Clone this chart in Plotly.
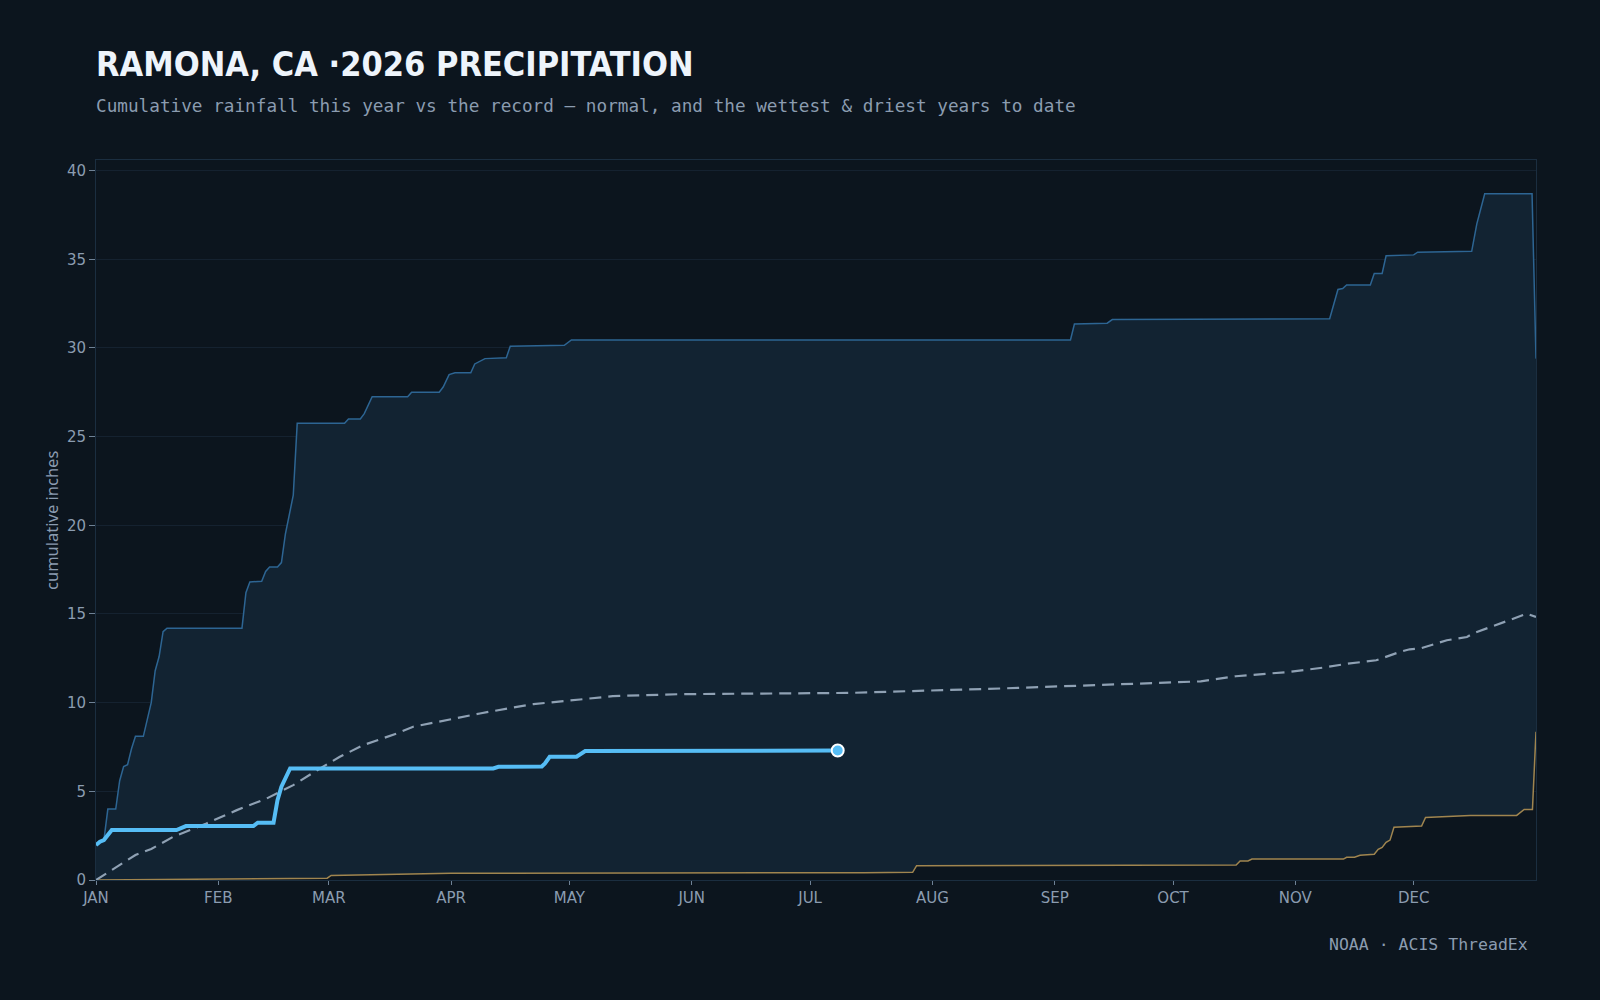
import pandas as pd
import plotly.graph_objects as go

YEAR_START = "2026-01-01"
AXIS_END = "2027-01-01"

month_ticks = ["2026-01-01", "2026-02-01", "2026-03-01", "2026-04-01", "2026-05-01", "2026-06-01",
               "2026-07-01", "2026-08-01", "2026-09-01", "2026-10-01", "2026-11-01", "2026-12-01"]
month_labels = ["JAN", "FEB", "MAR", "APR", "MAY", "JUN", "JUL", "AUG", "SEP", "OCT", "NOV", "DEC"]

# day-of-year offsets (0 = Jan 1) and cumulative inches
wettest_days = [0, 1, 2, 3, 5, 6, 7, 8, 9, 10, 12, 14, 15, 16, 17, 18, 37, 38, 39, 42, 43, 44, 46, 47, 48, 50,
                51, 63, 64, 67, 68, 70, 79, 80, 87, 88, 89.5, 91, 95, 96, 98.6, 104, 105, 118.7, 120.5, 247, 248,
                256.3, 257.6, 312.7, 314.8, 316, 317, 323, 324, 326, 327, 334, 335, 348.7, 350, 352, 364, 365]
wettest_in = [1.97, 2.16, 2.25, 4.0, 4.0, 5.6, 6.4, 6.5, 7.4, 8.1, 8.1, 10.0, 11.8, 12.6, 14.0, 14.2, 14.2, 16.2,
              16.8, 16.85, 17.4, 17.65, 17.65, 17.9, 19.5, 21.7, 25.75, 25.75, 26.0, 26.0, 26.3, 27.25, 27.25,
              27.5, 27.5, 27.8, 28.5, 28.6, 28.6, 29.1, 29.4, 29.45, 30.1, 30.15, 30.45, 30.45, 31.35, 31.4,
              31.6, 31.65, 33.3, 33.35, 33.55, 33.55, 34.2, 34.2, 35.2, 35.25, 35.4, 35.45, 37.0, 38.7, 38.7, 29.4]

driest_days = [0, 47, 58.6, 59.6, 72, 86, 90, 194.6, 207, 208, 284, 284.9, 289, 290, 292, 293, 316.2, 317, 319,
               320.4, 324, 325, 326, 327, 328, 329, 336, 337, 340.7, 348.3, 360.1, 362, 364.1, 365]
driest_in = [0, 0.05, 0.1, 0.26, 0.3, 0.34, 0.38, 0.41, 0.43, 0.81, 0.81, 0.85, 0.85, 1.07, 1.07, 1.18, 1.18,
             1.28, 1.28, 1.39, 1.45, 1.73, 1.84, 2.12, 2.25, 2.97, 3.04, 3.53, 3.57, 3.64, 3.64, 3.98, 3.98, 8.36]

normal_days = [0, 10, 14, 19.6, 28, 35.7, 43.3, 50, 56.8, 61.8, 67.8, 76.2, 80.4, 86.4, 97.3, 105.8, 110.9,
               122.7, 131, 148, 191, 229.3, 253.4, 280, 288.9, 302.3, 311.2, 317.3, 324.5, 330.5, 333, 335.6,
               342.4, 347.5, 349, 352.5, 356.7, 360, 362.7, 365]
normal_in = [0, 1.41, 1.75, 2.44, 3.19, 3.94, 4.6, 5.35, 6.29, 6.95, 7.61, 8.26, 8.64, 8.92, 9.39, 9.73, 9.92,
             10.18, 10.37, 10.48, 10.55, 10.8, 10.99, 11.2, 11.49, 11.73, 11.98, 12.2, 12.39, 12.86, 13.01,
             13.05, 13.52, 13.7, 13.9, 14.18, 14.5, 14.8, 15.02, 14.83]

current_days = [0, 1, 2, 4, 20.4, 22.8, 39.9, 41, 45, 46, 47, 49.2, 100.7, 102, 113, 113.8, 115, 121.8, 124,
                147.7, 148.5, 188]
current_in = [1.97, 2.16, 2.25, 2.82, 2.82, 3.04, 3.04, 3.23, 3.23, 4.5, 5.26, 6.29, 6.29, 6.38, 6.4, 6.57,
              6.95, 6.95, 7.27, 7.27, 7.3, 7.3]

BG = "#0c151e"
GRID = "#152230"
FRAME = "#1b2e40"
MUTED = "#8b9cb0"


def to_dates(days):
    return pd.Timestamp(YEAR_START) + pd.to_timedelta(pd.Series(days, dtype=float), unit="D")


fig = go.Figure()

fig.add_trace(go.Scatter(x=to_dates(driest_days), y=driest_in, mode="lines", name="Driest",
                         line=dict(color="#a0854f", width=1.5), hoverinfo="skip"))
fig.add_trace(go.Scatter(x=to_dates(wettest_days), y=wettest_in, mode="lines", name="Wettest",
                         line=dict(color="#2d6593", width=1.5), fill="tonexty", fillcolor="#122332",
                         hoverinfo="skip"))
fig.add_trace(go.Scatter(x=to_dates(normal_days), y=normal_in, mode="lines", name="Normal",
                         line=dict(color="#8fa1b4", width=2.2, dash="12px,7px")))
fig.add_trace(go.Scatter(x=to_dates(current_days), y=current_in, mode="lines", name="2026",
                         line=dict(color="#56bdf5", width=4)))
fig.add_trace(go.Scatter(x=to_dates(current_days[-1:]), y=current_in[-1:], mode="markers", name="Today",
                         marker=dict(color="#56bdf5", size=12, line=dict(color="#ffffff", width=2))))

fig.update_layout(
    width=1600, height=1000,
    margin=dict(l=96, r=64, t=160, b=120),
    paper_bgcolor=BG, plot_bgcolor=BG,
    showlegend=False,
    font=dict(family="DejaVu Sans", color=MUTED, size=15),
)

fig.update_xaxes(
    type="date", range=[YEAR_START, AXIS_END],
    tickvals=month_ticks, ticktext=month_labels,
    showgrid=False, zeroline=False,
    ticks="outside", ticklen=4, tickcolor="#6f8296",
    showline=True, linecolor=FRAME, linewidth=1, mirror=True,
    tickfont=dict(family="DejaVu Sans", size=15, color=MUTED),
)
fig.update_yaxes(
    range=[0, 40.6], dtick=5, tick0=0,
    showgrid=True, gridcolor=GRID, gridwidth=1, zeroline=False,
    ticks="outside", ticklen=6, tickcolor="#6f8296",
    showline=True, linecolor=FRAME, linewidth=1, mirror=True,
    tickfont=dict(family="DejaVu Sans", size=15, color=MUTED),
)

fig.add_annotation(text="RAMONA, CA ·2026 PRECIPITATION", xref="paper", yref="paper", x=0, y=1.134,
                   xanchor="left", yanchor="middle", showarrow=False, xshift=-2,
                   font=dict(family="Liberation Sans Narrow, DejaVu Sans Condensed, Roboto Condensed, Roboto",
                             size=34, color="#eef4fb", weight="bold"))
fig.add_annotation(text="Cumulative rainfall this year vs the record — normal, and the wettest & driest years to date",
                   xref="paper", yref="paper", x=0, y=1.075, xanchor="left", yanchor="middle", showarrow=False,
                   xshift=-2, font=dict(family="DejaVu Sans Mono", size=17.7, color=MUTED))
fig.add_annotation(text="NOAA · ACIS ThreadEx", xref="paper", yref="paper", x=0.9944, y=-0.0889,
                   xanchor="right", yanchor="middle", showarrow=False, xshift=2,
                   font=dict(family="DejaVu Sans Mono", size=16.5, color=MUTED))
fig.add_annotation(text="cumulative inches", xref="paper", yref="paper", x=-0.0313, y=0.5,
                   xanchor="center", yanchor="middle", textangle=-90, showarrow=False,
                   font=dict(family="Noto Sans", size=16.5, color=MUTED))

fig.write_html("out.html")
